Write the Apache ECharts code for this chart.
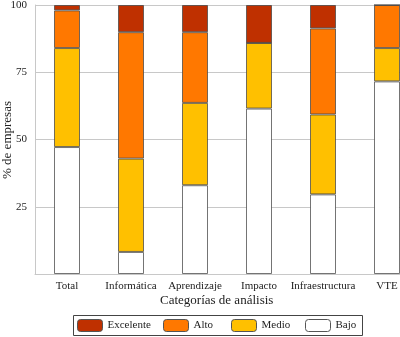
<!DOCTYPE html>
<html>
<head>
<meta charset="utf-8">
<script src="https://cdn.jsdelivr.net/npm/echarts@6/dist/echarts.min.js"></script>
<style>
  html, body { margin: 0; padding: 0; background: #fff; }
  #chart { width: 400px; height: 337px; }
</style>
</head>
<body>
<div id="chart"></div>
<script>
// Categories of analysis
const categories = ['Total', 'Informática', 'Aprendizaje', 'Impacto', 'Infraestructura', 'VTE'];

// Share of companies (%) at each level, stacked bottom to top
const bajo      = [47.2, 8.2, 33.0, 61.5, 29.6, 71.6];
const medio     = [36.8, 34.7, 30.6, 24.4, 29.7, 12.4];
const alto      = [14.0, 47.0, 26.3, 0.0, 32.0, 16.0];
const excelente = [2.0, 10.1, 10.1, 14.1, 8.7, 0.0];

const yTicks = [0, 25, 50, 75, 100];

const serif = 'Liberation Serif';
const edge = 'rgba(70,70,70,0.75)';

const colors = {
  Excelente: '#BF3000',
  Alto: '#FF7800',
  Medio: '#FFC000',
  Bajo: '#FFFFFF'
};

function mkSeries(name, data) {
  return {
    name: name,
    type: 'bar',
    stack: 'all',
    barWidth: 26,
    data: data,
    itemStyle: { color: colors[name], borderColor: edge, borderWidth: 1 }
  };
}

function mkLegend(name, left) {
  return {
    data: [name],
    left: left,
    top: 319,
    itemWidth: 25,
    itemHeight: 12,
    itemGap: 0,
    padding: 0,
    textStyle: { fontFamily: serif, fontSize: 11, color: '#222' },
    itemStyle: { borderColor: '#555', borderWidth: 1 }
  };
}

const chart = echarts.init(document.getElementById('chart'));
chart.setOption({
  animation: false,
  backgroundColor: '#fff',
  grid: { left: 35, top: 5, width: 384, height: 269, containLabel: false, outerBoundsMode: 'none' },
  xAxis: {
    type: 'category',
    data: categories,
    axisLine: { lineStyle: { color: '#c8c8c8' } },
    axisTick: { show: false },
    axisLabel: { fontFamily: serif, fontSize: 11, color: '#222', margin: 7, interval: 0 }
  },
  yAxis: {
    type: 'value',
    min: yTicks[0],
    max: yTicks[yTicks.length - 1],
    interval: 25,
    axisLine: { show: true, lineStyle: { color: '#c8c8c8' } },
    axisTick: { show: false },
    splitLine: { lineStyle: { color: '#c8c8c8' } },
    axisLabel: {
      fontFamily: serif, fontSize: 11, color: '#222', margin: 8,
      formatter: v => (v === 0 ? '' : String(v))
    }
  },
  legend: [
    mkLegend('Excelente', 77),
    mkLegend('Alto', 163),
    mkLegend('Medio', 231),
    mkLegend('Bajo', 305)
  ],
  graphic: [
    {
      type: 'text',
      x: 8,
      y: 140,
      rotation: Math.PI / 2,
      style: {
        text: '% de empresas', font: '13px "Liberation Serif"', fill: '#222',
        align: 'center', verticalAlign: 'middle'
      }
    },
    {
      type: 'text',
      left: 160,
      top: 294,
      style: { text: 'Categorías de análisis', font: '13px "Liberation Serif"', fill: '#222' }
    },
    {
      type: 'rect',
      shape: { x: 73.5, y: 315.5, width: 289, height: 20 },
      style: { fill: 'none', stroke: '#444', lineWidth: 1 },
      z: -1
    }
  ],
  series: [
    mkSeries('Bajo', bajo),
    mkSeries('Medio', medio),
    mkSeries('Alto', alto),
    mkSeries('Excelente', excelente)
  ]
});
</script>
</body>
</html>
